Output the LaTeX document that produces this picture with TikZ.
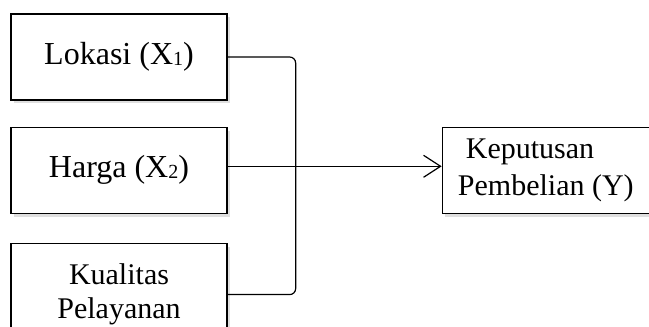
\documentclass[tikz,border=0pt]{standalone}
\usepackage{fontspec}
\setmainfont{Liberation Serif}
\usepackage{tikz}
\usetikzlibrary{positioning,arrows.meta,shadows}
\newcommand{\sbs}[1]{\raisebox{-0.8pt}{\fontsize{20}{20}\selectfont #1}}

\begin{document}
\begin{tikzpicture}[x=1pt, y=1pt,
  node distance=26pt and 214pt,
  var/.style={draw, line width=1.3pt, minimum width=216pt, minimum height=86pt, align=center, fill=white, font=\fontsize{32}{36}\selectfont, drop shadow={shadow xshift=2.5pt, shadow yshift=-3.5pt, fill=black!25}},
  link/.style={line width=1.2pt},
  arr/.style={link, -{Straight Barb[length=17pt, width=22pt, line width=1.2pt]}}
]
\clip (0,0) rectangle (649,327);

\node[var] (lok) at (119,270) {Lokasi (X\sbs{1})};
\node[var, below=of lok] (harga) {Harga (X\sbs{2})};
\node[var, below=29pt of harga, minimum height=102pt, font=\fontsize{30}{34}\selectfont] (kual) {Kualitas\\Pelayanan};

\node[var, right=of harga, minimum width=207pt, align=left, font=\fontsize{30}{37}\selectfont] (kep) {\hspace*{8pt}Keputusan\\Pembelian (Y)};

\coordinate[right=68pt of lok.east] (brk);

\draw[link, rounded corners=6pt] (lok.east) -- (lok.east -| brk) -- (kual.east -| brk) -- (kual.east);
\draw[arr] ([yshift=4pt]harga.east) -- ([yshift=4pt]kep.west);

\end{tikzpicture}
\end{document}
